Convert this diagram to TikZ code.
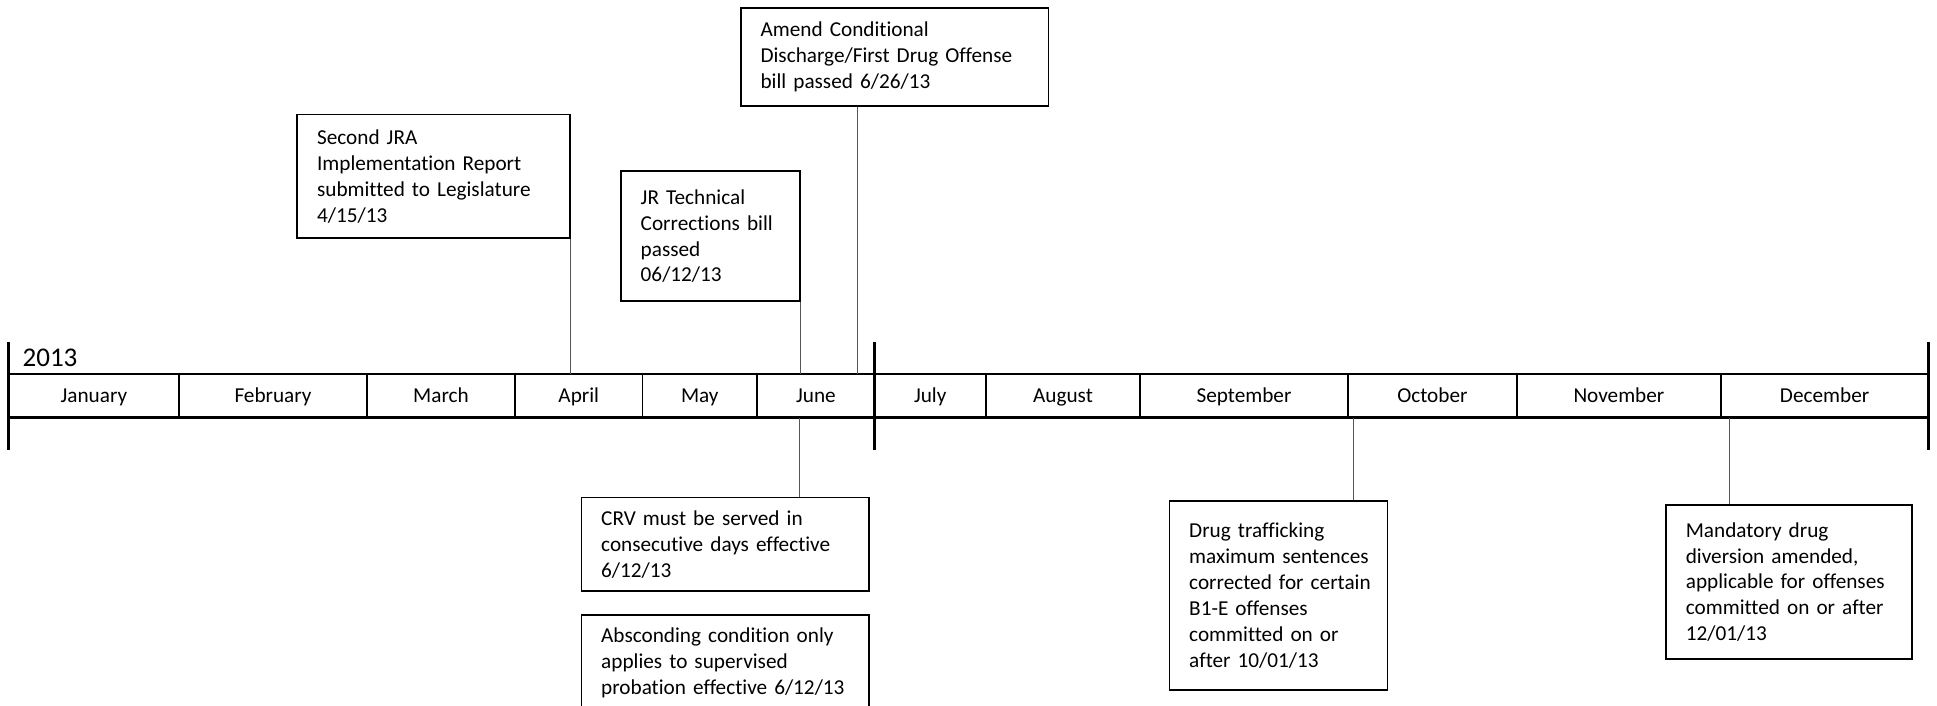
\documentclass[tikz,border=0pt]{standalone}
\usepackage{fontspec}
\setmainfont{Carlito}[Ligatures=NoCommon]
\hyphenpenalty=10000
\exhyphenpenalty=10000
\hfuzz=20pt
\definecolor{conn}{RGB}{85,85,85}
\begin{document}
\begin{tikzpicture}[x=0.64pt,y=-0.64pt,
  tl/.style={line width=1.2pt,black},
  divider/.style={line width=0.9pt,black},
  month/.style={font=\fontsize{11}{13.4}\selectfont,inner sep=0pt,anchor=base},
  box/.style={draw,line width=0.85pt,rectangle,anchor=north west,align=left,
    inner xsep=10.24pt,inner ysep=0pt,font=\fontsize{11}{13.44}\selectfont},
  conn/.style={line width=0.55pt,draw=conn}]
\useasboundingbox (0,0) rectangle (1568,571.5);
% timeline
\coordinate (tlL) at (7,303);
\coordinate (tlR) at (1561,303);
\coordinate (blL) at (7,338);
\coordinate (blR) at (1561,338);
\draw[tl] (tlL) -- (tlR);
\draw[tl] (blL) -- (blR);
\foreach \x in {7,708,1561} \draw[tl] (\x,277) -- (\x,364);
\foreach \x in {145,297,417,520,613,798,923,1091,1228,1393} \draw[divider] (\x,303) -- (\x,338);
\node[font=\fontsize{14}{16}\selectfont,inner sep=0pt,anchor=base west] (year) at (18,297) {2013};
\foreach \c/\n/\t in {76/m1/January,221/m2/February,357/m3/March,468.5/m4/April,566.5/m5/May,660.5/m6/June,753/m7/July,860.5/m8/August,1007/m9/September,1159.5/m10/October,1310.5/m11/November,1477/m12/December}
  \node[month] (\n) at (\c,326) {\t};
% boxes above
\node[box,text width=120.96pt,minimum height=64pt] (jra) at (240,92)
  {Second JRA\\Implementation Report\\submitted to Legislature\\4/15/13};
\node[box,text width=72.32pt,minimum height=67.2pt] (jrt) at (502,138)
  {JR Technical\\Corrections bill\\passed\\06/12/13};
\node[box,text width=138.88pt,minimum height=50.56pt] (amend) at (599,6)
  {Amend Conditional\\Discharge/First Drug Offense\\bill passed 6/26/13};
% boxes below
\node[box,text width=128.64pt,minimum height=48.64pt] (crv) at (470,402)
  {CRV must be served in\\consecutive days effective\\6/12/13};
\node[box,text width=128.64pt,minimum height=49.92pt] (absc) at (470,497)
  {Absconding condition only\\applies to supervised\\probation effective 6/12/13};
\node[box,text width=92.5pt,minimum height=97.92pt] (drug) at (946,405)
  {\mbox{Drug trafficking}\\\mbox{maximum sentences}\\\mbox{corrected for certain}\\\mbox{B1-E offenses}\\\mbox{committed on or}\\\mbox{after 10/01/13}};
\node[box,text width=106.88pt,minimum height=80pt] (mand) at (1348,408)
  {Mandatory drug\\diversion amended,\\applicable for offenses\\committed on or after\\12/01/13};
% connector end points
\coordinate (pJRA) at (462,303);
\coordinate (pJRT) at (648,303);
\coordinate (pAM) at (694,303);
\coordinate (pCRV) at (647,338);
\coordinate (pDRUG) at (1096,338);
\coordinate (pMAND) at (1400,338);
\draw[conn] (pJRA |- jra.south) -- (pJRA);
\draw[conn] (pJRT |- jrt.south) -- (pJRT);
\draw[conn] (pAM |- amend.south) -- (pAM);
\draw[conn] (pCRV) -- (pCRV |- crv.north);
\draw[conn] (pDRUG) -- (pDRUG |- drug.north);
\draw[conn] (pMAND) -- (pMAND |- mand.north);
\end{tikzpicture}
\end{document}
